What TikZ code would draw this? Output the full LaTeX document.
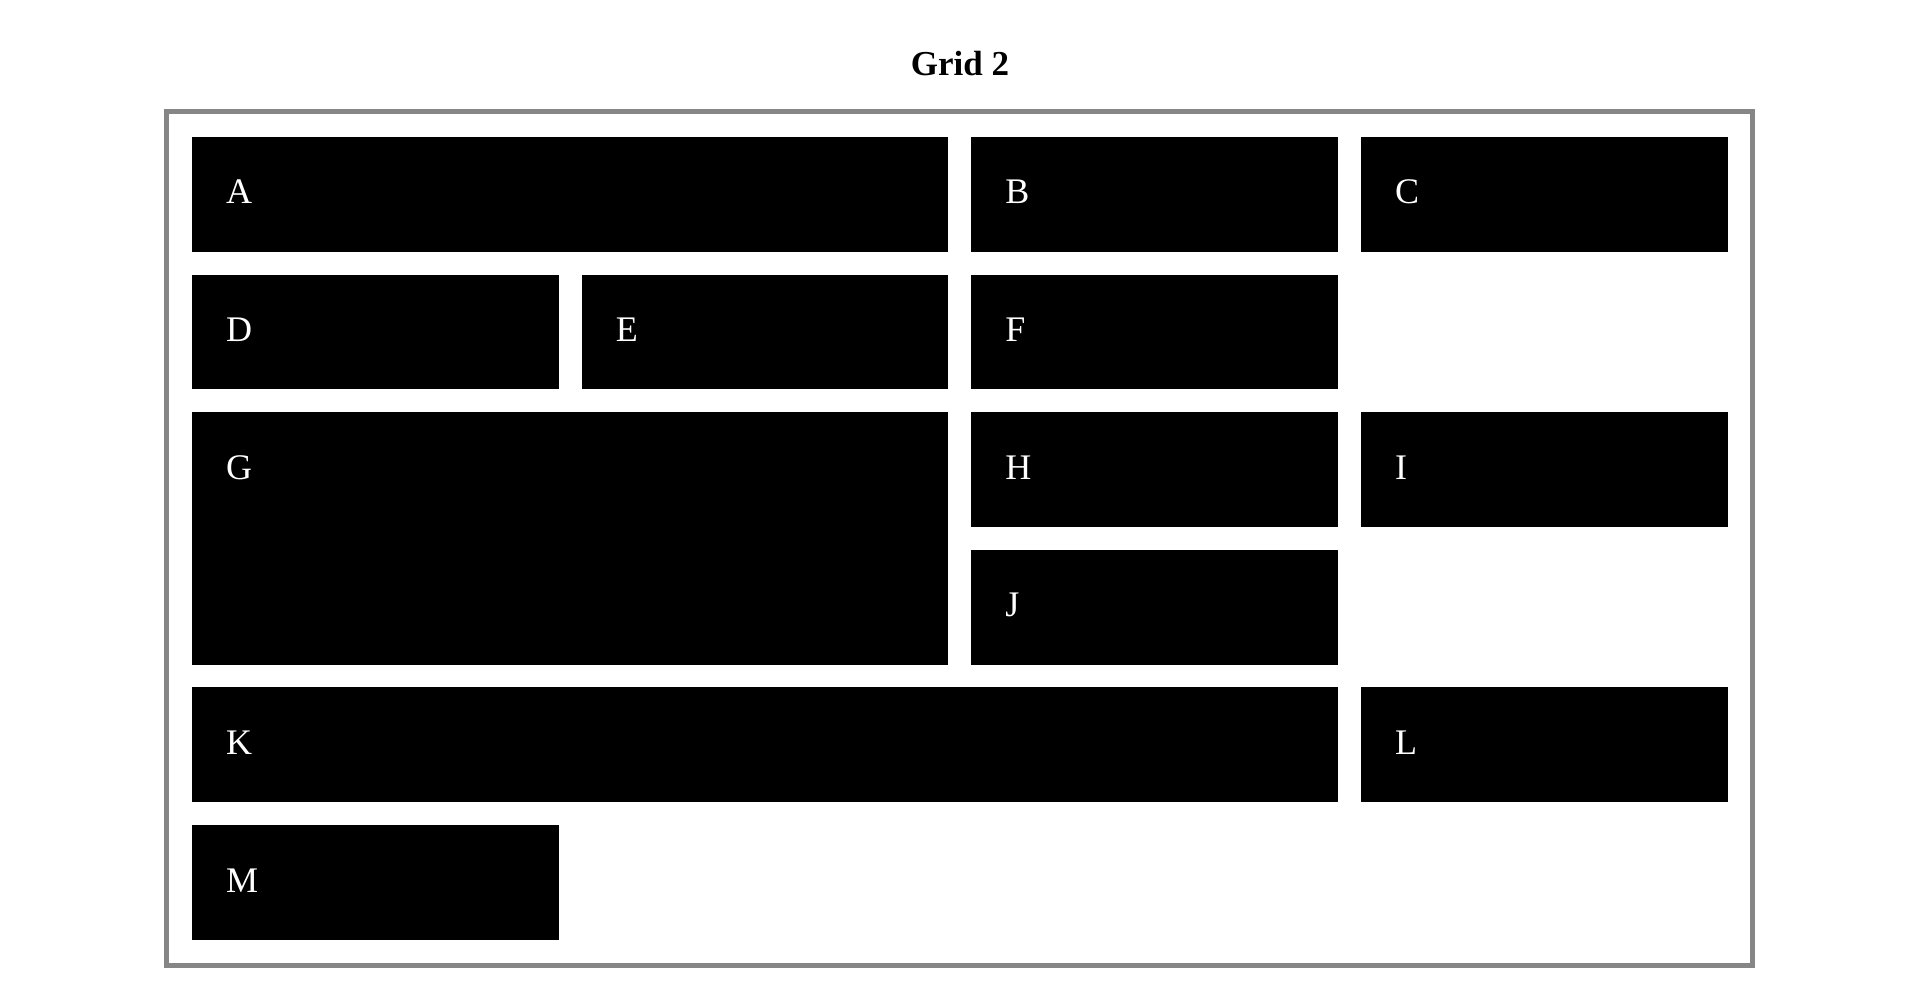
\documentclass[tikz,border=0pt]{standalone}
\usepackage{fontspec}
\setmainfont{Liberation Serif}
\definecolor{framegray}{RGB}{134,134,134}
\newcommand\gcell[7]{% name, left, top, width, height, label
  \node[cellbox, minimum width=#4pt, minimum height=#5pt, anchor=north west] (#1) at (#2,#3) {};
  \node[celltext] (#1-t) at ([xshift=34pt,yshift=-67pt]#1.north west) {#6};
}
\begin{document}
\begin{tikzpicture}[x=1pt,y=-1pt,
  cellbox/.style={fill=black, draw=none, inner sep=0pt, outer sep=0pt, rectangle},
  celltext/.style={text=white, anchor=base west, inner sep=0pt, font=\fontsize{36}{40}\selectfont},
  frame/.style={draw=framegray, line width=5pt},
  title/.style={anchor=base, inner sep=0pt, font=\fontsize{35}{39}\selectfont\bfseries}]
\useasboundingbox (0,0) rectangle (1920,987);
\node[title] (title) at (960,75.5) {Grid 2};
\draw[frame] (166.5,111.5) rectangle (1752.5,965.2);
\gcell{A}{192}{137}{756.3}{114.7}{A}{}
\gcell{B}{971.2}{137}{366.7}{114.7}{B}{}
\gcell{C}{1360.8}{137}{366.7}{114.7}{C}{}
\gcell{D}{192}{274.6}{366.7}{114.7}{D}{}
\gcell{E}{581.6}{274.6}{366.7}{114.7}{E}{}
\gcell{F}{971.2}{274.6}{366.7}{114.7}{F}{}
\gcell{G}{192}{412.2}{756.3}{252.3}{G}{}
\gcell{H}{971.2}{412.2}{366.7}{114.7}{H}{}
\gcell{I}{1360.8}{412.2}{366.7}{114.7}{I}{}
\gcell{J}{971.2}{549.8}{366.7}{114.7}{J}{}
\gcell{K}{192}{687.4}{1145.9}{114.7}{K}{}
\gcell{L}{1360.8}{687.4}{366.7}{114.7}{L}{}
\gcell{M}{192}{825}{366.7}{114.7}{M}{}
\end{tikzpicture}
\end{document}
